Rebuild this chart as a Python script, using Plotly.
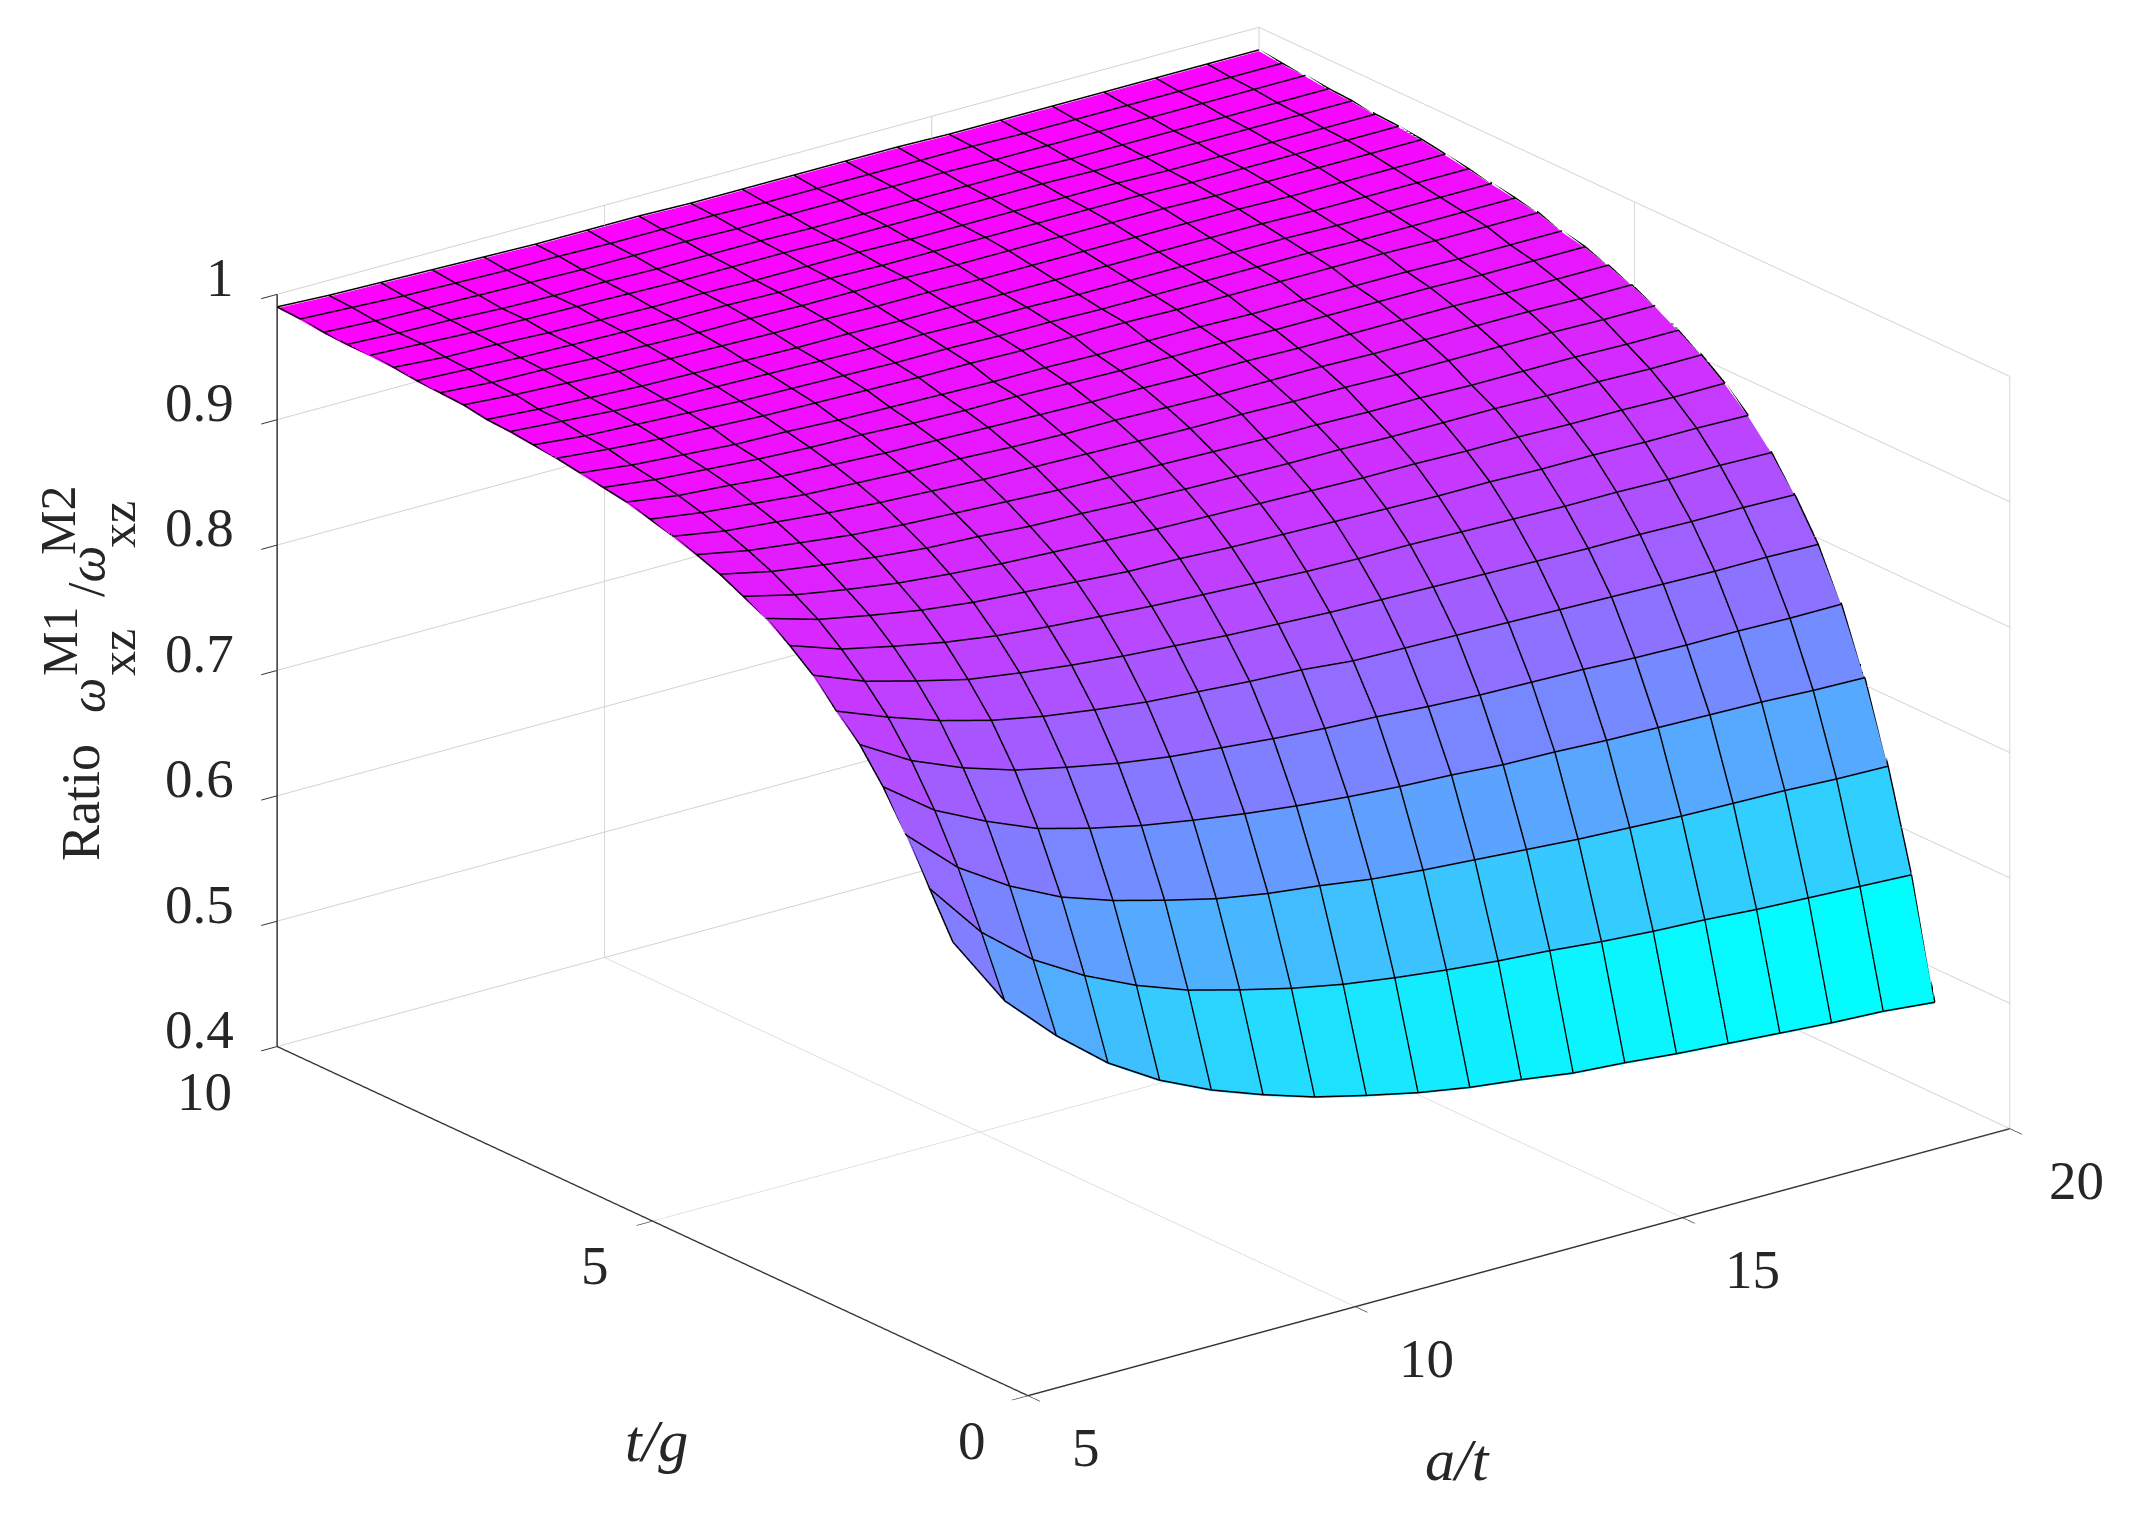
import plotly.graph_objects as go

a_t = [5.0, 5.789, 6.579, 7.368, 8.158, 8.947, 9.737, 10.526, 11.316, 12.105,
       12.895, 13.684, 14.474, 15.263, 16.053, 16.842, 17.632, 18.421, 19.211, 20.0]
t_g = [1.0, 1.31, 1.621, 1.931, 2.241, 2.552, 2.862, 3.172, 3.483, 3.793,
       4.103, 4.414, 4.724, 5.034, 5.345, 5.655, 5.966, 6.276, 6.586, 6.897,
       7.207, 7.517, 7.828, 8.138, 8.448, 8.759, 9.069, 9.379, 9.69, 10.0]
ratio = [
 [.733,.675,.636,.603,.578,.559,.544,.531,.521,.512,.505,.500,.494,.491,.487,.484,.481,.478,.476,.472],
 [.767,.721,.688,.664,.645,.630,.619,.609,.601,.595,.590,.586,.583,.579,.576,.574,.571,.569,.567,.565],
 [.801,.764,.738,.718,.704,.693,.683,.676,.671,.665,.661,.658,.655,.652,.650,.648,.647,.646,.644,.643],
 [.831,.801,.781,.764,.753,.744,.737,.731,.726,.722,.719,.717,.714,.713,.711,.710,.709,.708,.706,.705],
 [.856,.832,.815,.802,.793,.785,.779,.775,.771,.768,.766,.763,.761,.760,.759,.757,.756,.756,.755,.755],
 [.874,.858,.844,.833,.825,.819,.814,.811,.808,.806,.802,.801,.800,.799,.798,.797,.796,.795,.795,.794],
 [.894,.878,.867,.857,.851,.846,.842,.839,.836,.834,.832,.831,.830,.829,.828,.827,.827,.826,.826,.825],
 [.909,.895,.886,.878,.872,.868,.865,.862,.860,.858,.856,.855,.855,.854,.853,.852,.852,.851,.851,.850],
 [.922,.910,.902,.895,.890,.887,.884,.881,.880,.878,.877,.876,.875,.874,.874,.873,.873,.872,.872,.871],
 [.931,.921,.914,.908,.904,.901,.899,.897,.895,.894,.893,.892,.891,.891,.890,.890,.889,.889,.888,.888],
 [.940,.931,.925,.920,.916,.914,.911,.910,.908,.907,.906,.905,.905,.904,.904,.904,.903,.903,.902,.902],
 [.947,.939,.934,.929,.926,.924,.922,.920,.919,.918,.917,.916,.916,.915,.915,.914,.914,.914,.913,.913],
 [.953,.946,.942,.938,.935,.933,.931,.930,.929,.928,.927,.927,.926,.926,.925,.925,.925,.925,.924,.924],
 [.958,.952,.948,.944,.942,.940,.939,.937,.936,.936,.935,.934,.934,.934,.933,.933,.933,.933,.932,.932],
 [.963,.957,.954,.950,.948,.946,.945,.944,.943,.942,.942,.941,.941,.940,.940,.940,.940,.939,.939,.939],
 [.966,.961,.958,.955,.953,.952,.950,.949,.949,.948,.947,.947,.947,.946,.946,.946,.946,.945,.945,.945],
 [.969,.964,.961,.958,.957,.955,.954,.953,.952,.952,.951,.951,.951,.950,.950,.950,.950,.949,.949,.949],
 [.972,.968,.965,.963,.961,.960,.959,.958,.958,.957,.957,.957,.956,.956,.956,.956,.956,.955,.955,.955],
 [.974,.970,.968,.966,.964,.963,.962,.961,.961,.960,.960,.959,.959,.959,.959,.959,.958,.958,.958,.958],
 [.976,.973,.970,.968,.967,.966,.965,.964,.964,.963,.963,.962,.962,.962,.962,.962,.961,.961,.961,.961],
 [.977,.974,.972,.970,.969,.968,.967,.967,.966,.966,.965,.965,.965,.965,.965,.965,.964,.964,.964,.964],
 [.980,.977,.975,.973,.972,.971,.970,.970,.969,.969,.968,.968,.968,.968,.968,.968,.967,.967,.967,.967],
 [.981,.978,.977,.975,.974,.973,.973,.972,.972,.972,.971,.971,.971,.971,.971,.970,.970,.970,.970,.970],
 [.982,.980,.978,.977,.976,.975,.975,.974,.974,.973,.973,.973,.973,.973,.973,.972,.972,.972,.972,.972],
 [.984,.981,.980,.978,.977,.976,.976,.975,.975,.975,.974,.974,.974,.974,.974,.973,.973,.973,.973,.973],
 [.985,.983,.981,.980,.979,.978,.977,.977,.977,.976,.976,.976,.976,.976,.975,.975,.975,.975,.975,.975],
 [.985,.983,.982,.980,.979,.979,.978,.978,.978,.977,.977,.977,.977,.977,.976,.976,.976,.976,.976,.976],
 [.986,.984,.983,.982,.981,.980,.980,.980,.979,.979,.979,.979,.979,.978,.978,.978,.978,.978,.978,.978],
 [.988,.986,.984,.983,.982,.982,.981,.981,.981,.980,.980,.980,.980,.980,.979,.979,.979,.979,.979,.979],
 [.989,.987,.986,.985,.984,.983,.983,.983,.982,.982,.982,.982,.982,.981,.981,.981,.981,.981,.981,.981],
]
x_ticks = [5, 10, 15, 20]
y_ticks = [0, 5, 10]
z_ticks = [0.4, 0.5, 0.6, 0.7, 0.8, 0.9, 1.0]
z_tick_labels = ["0.4", "0.5", "0.6", "0.7", "0.8", "0.9", "1"]

SERIF = "Liberation Serif"
TEXT = "#262626"
LIFT = 0.001
ni, nj = len(t_g), len(a_t)

vx, vy, vz = [], [], []
for i in range(ni):
    for j in range(nj):
        vx.append(a_t[j]); vy.append(t_g[i]); vz.append(ratio[i][j])
fi, fj, fk, cell = [], [], [], []
for i in range(ni - 1):
    for j in range(nj - 1):
        p = i * nj + j
        fi += [p, p]; fj += [p + 1, p + nj + 1]; fk += [p + nj + 1, p + nj]
        cell += [ratio[i][j], ratio[i][j]]

zflat = [v for r in ratio for v in r]
fig = go.Figure()
fig.add_trace(go.Mesh3d(
    x=vx, y=vy, z=vz, i=fi, j=fj, k=fk,
    intensity=cell, intensitymode="cell",
    cmin=min(zflat), cmax=max(zflat),
    colorscale=[[0, "#00ffff"], [1, "#ff00ff"]], showscale=False,
    flatshading=True,
    lighting=dict(ambient=1, diffuse=0, specular=0, roughness=1, fresnel=0),
    hoverinfo="skip",
))
lx, ly, lz = [], [], []
for i in range(ni):
    lx += a_t + [None]; ly += [t_g[i]] * nj + [None]
    lz += [v + LIFT for v in ratio[i]] + [None]
for j in range(nj):
    lx += [a_t[j]] * ni + [None]; ly += t_g + [None]
    lz += [r[j] + LIFT for r in ratio] + [None]
fig.add_trace(go.Scatter3d(x=lx, y=ly, z=lz, mode="lines",
                           line=dict(color="#000000", width=3), hoverinfo="skip"))
# dark vertical z axis line on the left edge of the box
fig.add_trace(go.Scatter3d(x=[x_ticks[0]] * len(z_ticks), y=[y_ticks[-1]] * len(z_ticks), z=z_ticks,
                           mode="lines", line=dict(color="#333333", width=3), hoverinfo="skip"))

def axis(rng, ticks):
    return dict(range=rng, tickvals=ticks, autorange=False, showticklabels=False,
                showbackground=False, showgrid=True, gridcolor="#d2d2d2", gridwidth=2,
                showline=True, linecolor="#333333", linewidth=3,
                ticks="outside", ticklen=20, tickcolor="#333333", tickwidth=2,
                zeroline=False, showspikes=False, title=dict(text=""))

scene_notes = []
def tick_note(text, x, y, z, dx, dy):
    scene_notes.append(dict(text=text, x=x, y=y, z=z, showarrow=False, xshift=dx, yshift=dy,
                            xanchor="center", yanchor="middle",
                            font=dict(family=SERIF, size=55, color=TEXT)))

for v, dx in zip(x_ticks, [59, 72, 71, 67]):
    tick_note(str(v), v, 0, 0.4, dx, -52)
for v, dx in zip(y_ticks, [-55, -57, -72]):
    tick_note(str(v), 5, v, 0.4, dx, -45)
for v, s in zip(z_ticks, z_tick_labels):
    tick_note(s, 5, 10, v, -57 if s == "1" else -77, 17)

fig.update_layout(
    width=2133, height=1513, margin=dict(l=0, r=0, t=0, b=0),
    paper_bgcolor="white", showlegend=False,
    scene=dict(
        domain=dict(x=[0.0687, 0.9955], y=[0.0702, 1]),
        xaxis=axis([5, 20], x_ticks),
        yaxis=axis([0, 10], y_ticks),
        zaxis=axis([0.4, 1], z_ticks),
        aspectmode="manual", aspectratio=dict(x=1.757, y=1.757, z=1.144),
        annotations=scene_notes,
        camera=dict(projection=dict(type="orthographic"),
                    up=dict(x=0, y=0, z=1),
                    center=dict(x=0, y=0, z=0),
                    eye=dict(x=-0.91, y=-1.19, z=0.57)),
    ),
)

def note(text, x, y, size, angle=0):
    fig.add_annotation(text=text, x=x / 2133, y=1 - y / 1513, xref="paper", yref="paper",
                       showarrow=False, textangle=angle, xanchor="center", yanchor="middle",
                       font=dict(family=SERIF, size=size, color=TEXT))

note("Ratio", 73, 795, 54, -90)
note("<i>ω</i>", 80, 688, 50, -90)
note("M1", 52, 634, 50, -90)
note("xz", 110, 645, 50, -90)
note("/<i>ω</i>", 78, 564, 52, -90)
note("M2", 50, 513, 50, -90)
note("xz", 110, 517, 50, -90)
note("<i>t/g</i>", 648, 1433, 60)
note("<i>a/t</i>", 1449, 1452, 60)

fig.write_html("out.html")
